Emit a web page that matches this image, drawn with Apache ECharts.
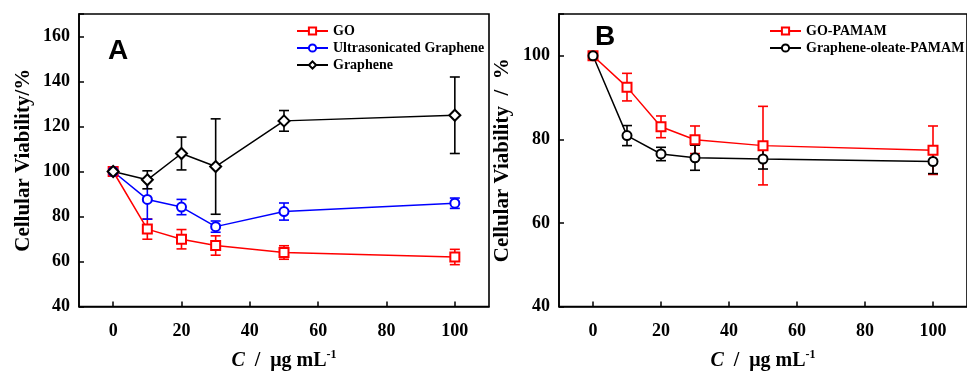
<!DOCTYPE html>
<html><head><meta charset="utf-8">
<script src="https://cdn.jsdelivr.net/npm/echarts@6/dist/echarts.min.js"></script>
<style>html,body{margin:0;padding:0;background:#fff}#c{width:967px;height:376px}</style>
</head><body><div id="c"></div>
<script>
// ---- data ----
const conc = [0, 10, 20, 30, 50, 100];
// Panel A
const goA = [100, 74.4, 69.9, 67.1, 64.0, 62.0];
const goAErr = [0, 4.5, 4.3, 4.3, 3.0, 3.4];
const usgA = [100, 87.6, 84.2, 75.5, 82.2, 85.9];
const usgAErr = [0, 8.8, 3.4, 2.5, 3.8, 2.3];
const grA = [100, 96.3, 108.0, 102.2, 122.5, 125.0];
const grAErr = [0, 4.0, 7.3, 21.2, 4.6, 17.0];
// Panel B
const goPamam = [100, 92.5, 83.0, 79.9, 78.5, 77.4];
const goPamamErr = [0, 3.3, 2.6, 3.3, 9.4, 5.8];
const grOlPamam = [100, 80.9, 76.5, 75.6, 75.3, 74.7];
const grOlPamamErr = [0, 2.4, 1.6, 3.0, 2.4, 2.9];
const xTicks = [0, 20, 40, 60, 80, 100];
const namesA = ['GO', 'Ultrasonicated Graphene', 'Graphene'];
const namesB = ['GO-PAMAM', 'Graphene-oleate-PAMAM'];

const serif = 'Liberation Serif';
const RED = '#ff0000', BLUE = '#0000ff', BLACK = '#000000';

function pts(ys) { return conc.map((x, i) => [x, ys[i]]); }
function errData(ys, es) { return conc.map((x, i) => [x, ys[i], es[i]]).filter(d => d[2] > 0); }

function lineSeries(name, ys, color, symbol, gi) {
  return {
    type: 'line', name, data: pts(ys), xAxisIndex: gi, yAxisIndex: gi,
    symbol, symbolSize: symbol === 'emptyDiamond' ? 11 : 9,
    itemStyle: { color: color, borderColor: color, borderWidth: 1.6 },
    lineStyle: { color: color, width: 1.5 }, z: 3, animation: false
  };
}
function errSeries(ys, es, color, gi) {
  return {
    type: 'custom', xAxisIndex: gi, yAxisIndex: gi, z: 2, silent: true, animation: false,
    data: errData(ys, es),
    renderItem(params, api) {
      const x = api.value(0), y = api.value(1), e = api.value(2);
      const top = api.coord([x, y + e]), bot = api.coord([x, y - e]);
      const hw = 5;
      const st = { stroke: color, lineWidth: 1.6 };
      return { type: 'group', children: [
        { type: 'line', shape: { x1: top[0], y1: top[1], x2: bot[0], y2: bot[1] }, style: st },
        { type: 'line', shape: { x1: top[0] - hw, y1: top[1], x2: top[0] + hw, y2: top[1] }, style: st },
        { type: 'line', shape: { x1: bot[0] - hw, y1: bot[1], x2: bot[0] + hw, y2: bot[1] }, style: st }
      ]};
    }
  };
}

const xName = '{i|C}{n|  /  μg mL}{s|-1}';
const xNameRich = {
  i: { fontFamily: serif, fontStyle: 'italic', fontWeight: 'bold', fontSize: 20, color: '#000' },
  n: { fontFamily: serif, fontWeight: 'bold', fontSize: 20, color: '#000' },
  s: { fontFamily: serif, fontWeight: 'bold', fontSize: 12, color: '#000', padding: [0, 0, 13, 0] }
};
function xAxis(gi) {
  return {
    type: 'value', gridIndex: gi, min: -10, max: 110,
    name: xName, nameLocation: 'middle', nameGap: 42,
    nameTextStyle: { rich: xNameRich },
    axisLine: { show: true, onZero: false, lineStyle: { color: '#000', width: 1.6 } },
    axisTick: { show: true, inside: true, length: 5, customValues: xTicks, lineStyle: { color: '#000', width: 1.5 } },
    axisLabel: { fontFamily: serif, fontWeight: 'bold', fontSize: 18, color: '#000', margin: 16,
      customValues: xTicks, showMinLabel: true, showMaxLabel: true },
    splitLine: { show: false }
  };
}
function yAxis(gi, max, name, gap) {
  return {
    type: 'value', gridIndex: gi, min: 40, max, interval: 20,
    name, nameLocation: 'middle', nameGap: gap,
    nameTextStyle: { fontFamily: serif, fontWeight: 'bold', fontSize: 21, color: '#000' },
    axisLine: { show: true, onZero: false, lineStyle: { color: '#000', width: 1.6 } },
    axisTick: { show: true, inside: true, length: 5, lineStyle: { color: '#000', width: 1.5 } },
    axisLabel: { fontFamily: serif, fontWeight: 'bold', fontSize: 18, color: '#000', margin: 9,
      formatter: v => (v % 20 === 0) ? String(v) : '' },
    splitLine: { show: false }
  };
}

const legendText = { fontFamily: serif, fontWeight: 'bold', fontSize: 14, color: '#000' };
const option = {
  backgroundColor: '#fff',
  animation: false,
  grid: [
    { left: 79, top: 14, width: 410, height: 296, show: true, borderColor: '#000', borderWidth: 1.6, backgroundColor: 'transparent' },
    { left: 559, top: 14, width: 411, height: 296, show: true, borderColor: '#000', borderWidth: 1.6, backgroundColor: 'transparent' }
  ],
  xAxis: [xAxis(0), xAxis(1)],
  yAxis: [yAxis(0, 170, 'Cellular Viability/%', 45), yAxis(1, 110, 'Cellular Viability  /  %', 46)],
  legend: [
    { data: namesA, orient: 'vertical', left: 296, top: 24, padding: 0, itemWidth: 31, itemHeight: 9, itemGap: 3,
      textStyle: legendText, selectedMode: false },
    { data: namesB, orient: 'vertical', left: 769, top: 24, padding: 0, itemWidth: 31, itemHeight: 9, itemGap: 3,
      textStyle: legendText, selectedMode: false }
  ],
  graphic: [
    { type: 'text', left: 108, top: 37, style: { text: 'A', font: 'bold 28px "Liberation Sans"', fill: '#000' } },
    { type: 'text', left: 595, top: 23, style: { text: 'B', font: 'bold 28px "Liberation Sans"', fill: '#000' } }
  ],
  series: [
    errSeries(goA, goAErr, RED, 0),
    errSeries(usgA, usgAErr, BLUE, 0),
    errSeries(grA, grAErr, BLACK, 0),
    lineSeries(namesA[0], goA, RED, 'emptyRect', 0),
    lineSeries(namesA[1], usgA, BLUE, 'emptyCircle', 0),
    lineSeries(namesA[2], grA, BLACK, 'emptyDiamond', 0),
    errSeries(goPamam, goPamamErr, RED, 1),
    errSeries(grOlPamam, grOlPamamErr, BLACK, 1),
    lineSeries(namesB[0], goPamam, RED, 'emptyRect', 1),
    lineSeries(namesB[1], grOlPamam, BLACK, 'emptyCircle', 1)
  ]
};
const chart = echarts.init(document.getElementById('c'), null, { renderer: 'canvas' });
chart.setOption(option);
</script></body></html>
